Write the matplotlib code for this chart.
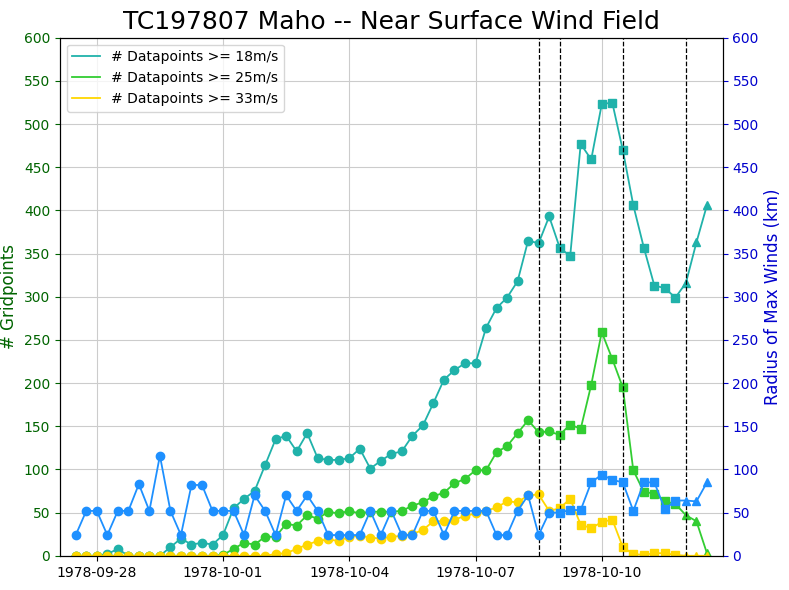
import matplotlib
matplotlib.use("Agg")
import matplotlib.pyplot as plt
import matplotlib.dates as mdates
import numpy as np
import pandas as pd

times = pd.date_range("1978-09-27 12:00", periods=61, freq="6h")

n18 = [0, 0, 0, 2, 8, 0, 0, 0, 0, 10, 20, 13, 15, 13, 24, 55, 66, 75, 105, 135,
       139, 121, 142, 113, 111, 111, 113, 124, 101, 110, 118, 121, 139, 151, 177, 204, 215, 223, 223, 264,
       287, 299, 318, 365, 362, 393, 357, 347, 477, 459, 523, 525, 470, 406, 357, 313, 310, 299, 316, 363,
       406]
n25 = [0, 0, 0, 0, 0, 0, 0, 0, 0, 0, 0, 0, 0, 0, 1, 8, 15, 13, 22, 22,
       37, 35, 47, 43, 51, 49, 52, 49, 51, 51, 51, 52, 58, 62, 69, 73, 84, 89, 99, 99,
       120, 127, 142, 157, 143, 144, 140, 152, 147, 198, 259, 228, 195, 99, 74, 72, 63, 60, 47, 40,
       3]
n33 = [0, 0, 0, 0, 0, 0, 0, 0, 0, 0, 0, 0, 0, 0, 0, 0, 0, 0, 0, 2,
       3, 8, 13, 17, 19, 17, 22, 23, 21, 20, 22, 23, 25, 30, 40, 40, 42, 46, 49, 52,
       56, 63, 62, 70, 71, 52, 55, 66, 36, 32, 39, 42, 10, 2, 1, 3, 3, 1, 0, 0,
       0]
rmw = [24, 52, 52, 24, 52, 52, 83, 52, 116, 52, 24, 82, 82, 52, 52, 52, 24, 70, 52, 24,
       70, 52, 70, 52, 24, 24, 24, 24, 52, 24, 52, 24, 24, 52, 52, 24, 52, 52, 52, 52,
       24, 24, 52, 70, 24, 50, 50, 53, 53, 85, 94, 88, 85, 52, 85, 85, 54, 64, 64, 63,
       85]

# marker segments (index ranges) and dashed-line positions
segments = [(0, 46, "o"), (46, 58, "s"), (58, 61, "^")]
vlines = [44, 46, 52, 58]

fig, ax = plt.subplots(figsize=(7.89, 5.9), dpi=100)
ax2 = ax.twinx()

series = [(n18, "lightseagreen", "# Datapoints >= 18m/s"),
          (n25, "limegreen", "# Datapoints >= 25m/s"),
          (n33, "gold", "# Datapoints >= 33m/s")]
for vals, col, lab in series:
    ax.plot(times, vals, color=col, lw=1.3, label=lab)
    for a, b, m in segments:
        ax.plot(times[a:b], vals[a:b], ls="none", marker=m, color=col, ms=6)

ax2.plot(times, rmw, color="dodgerblue", lw=1.3)
for a, b, m in segments:
    ax2.plot(times[a:b], rmw[a:b], ls="none", marker=m, color="dodgerblue", ms=6)

for i in vlines:
    ax.axvline(times[i], color="black", ls="--", lw=0.9)

ax.set_ylim(0, 600)
ax2.set_ylim(0, 600)
ax.set_yticks(np.arange(0, 601, 50))
ax2.set_yticks(np.arange(0, 601, 50))
ax.tick_params(axis="y", colors="darkgreen")
ax2.tick_params(axis="y", colors="mediumblue")
ax.set_ylabel("# Gridpoints", color="darkgreen", fontsize=12)
ax2.set_ylabel("Radius of Max Winds (km)", color="mediumblue", fontsize=12)
ax.set_xlim(times[0] - pd.Timedelta(hours=9), times[-1] + pd.Timedelta(hours=9))
ax.xaxis.set_major_locator(mdates.DayLocator(bymonthday=[28, 1, 4, 7, 10]))
ax.xaxis.set_major_formatter(mdates.DateFormatter("%Y-%m-%d"))
ax.grid(True, color="#cccccc")
ax.legend(loc="upper left")
ax.set_title("TC197807 Maho -- Near Surface Wind Field", fontsize=18)
fig.subplots_adjust(left=0.076, right=0.916, top=0.936, bottom=0.058)
fig.savefig("out.png")
